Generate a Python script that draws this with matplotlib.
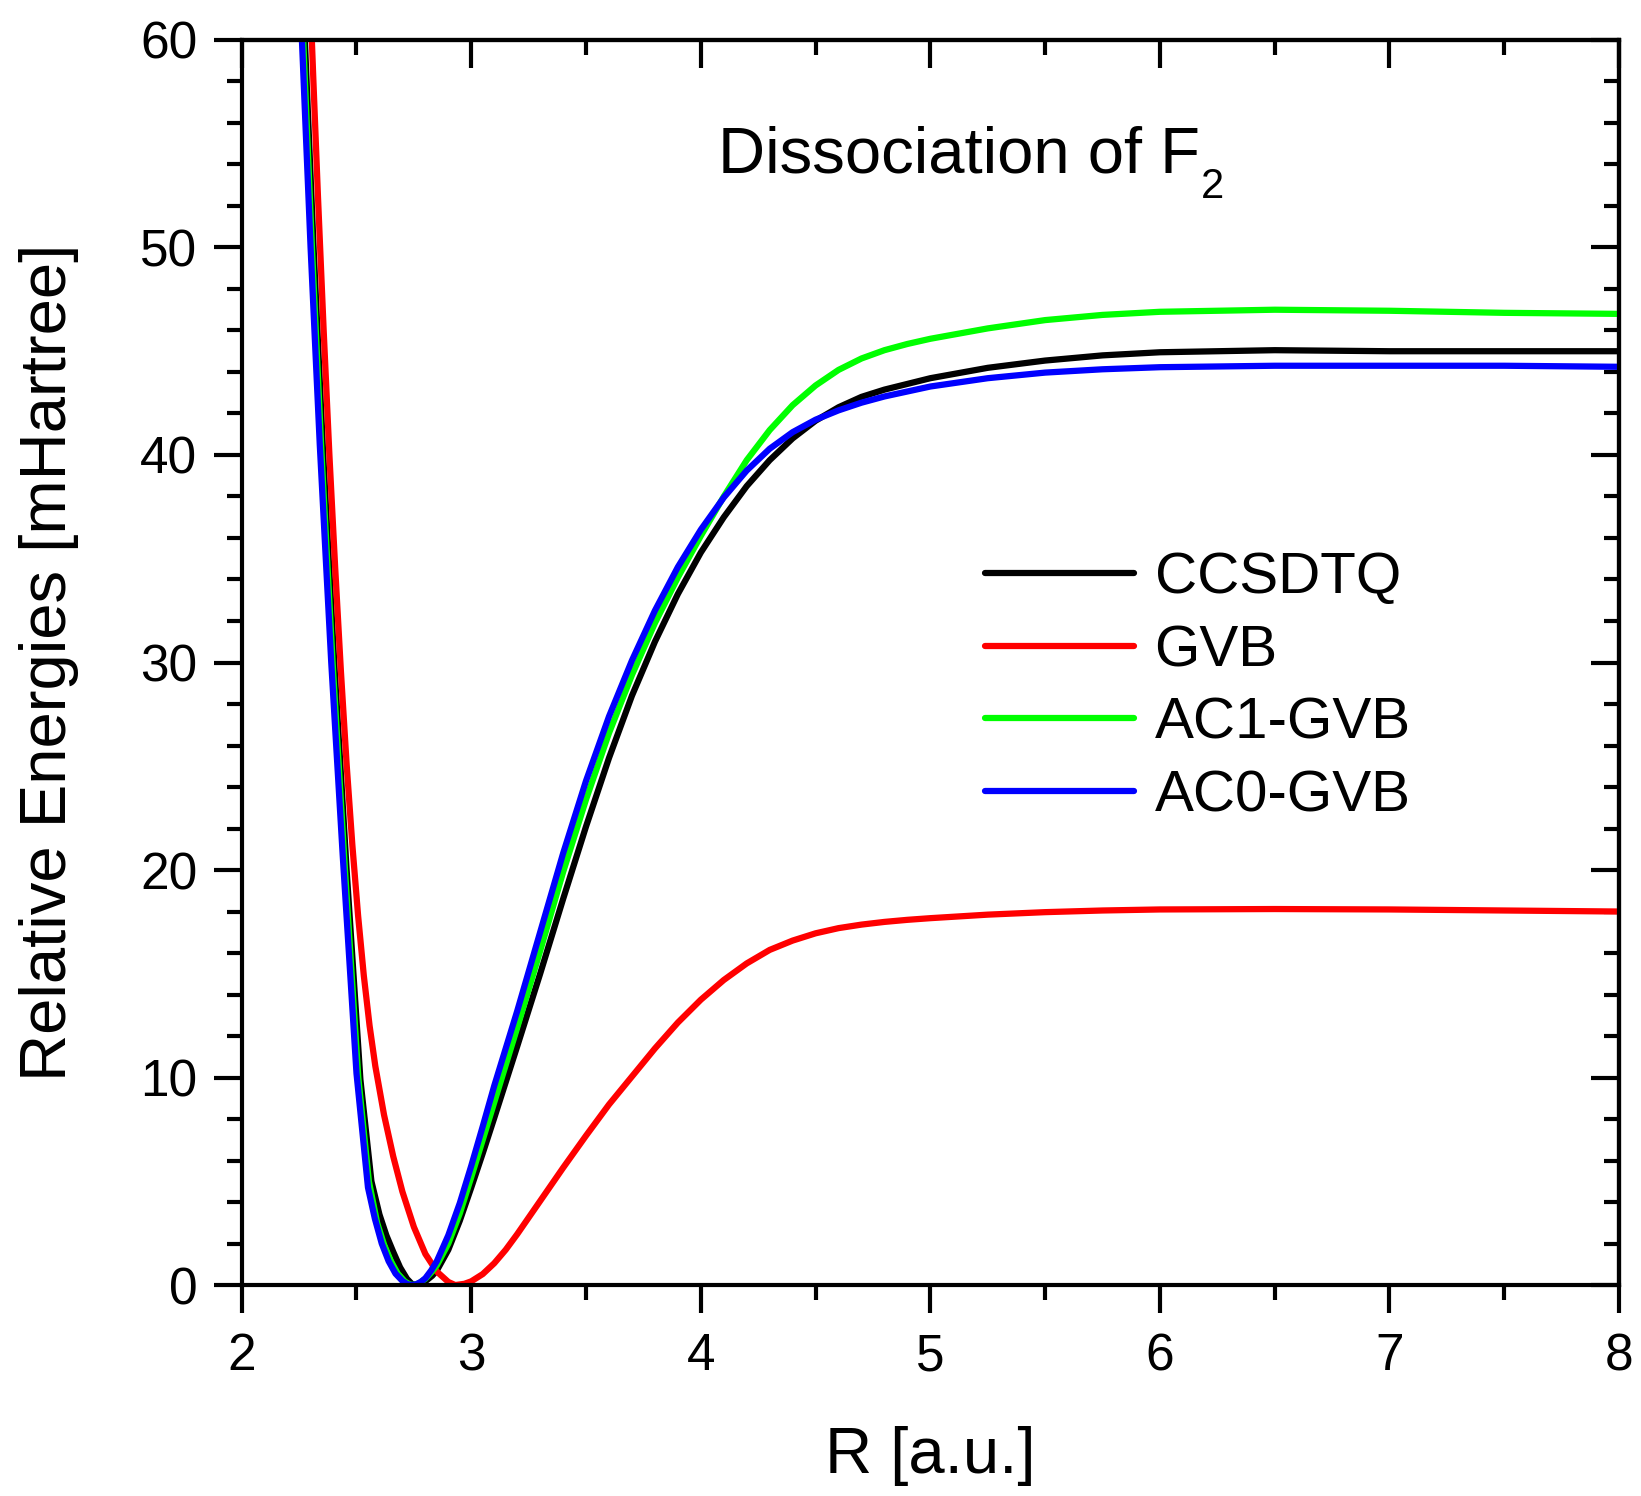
import matplotlib
matplotlib.use("Agg")
import matplotlib.pyplot as plt
from matplotlib.ticker import MultipleLocator

plt.rcParams['font.family'] = ['Liberation Sans', 'DejaVu Sans']

# potential energy curves, R in bohr, E in mHartree
r_ccsdtq = [2.26, 2.275, 2.313, 2.355, 2.403, 2.457, 2.517, 2.565, 2.60, 2.63, 2.66, 2.69,
            2.72, 2.74, 2.757, 2.78, 2.80, 2.83, 2.85, 2.90, 2.95, 3.00, 3.05, 3.10, 3.20,
            3.30, 3.40, 3.50, 3.60, 3.70, 3.80, 3.90, 4.00, 4.10, 4.20, 4.30, 4.40, 4.50,
            4.60, 4.70, 4.80, 5.00, 5.25, 5.50, 5.75, 6.00, 6.50, 7.00, 7.50, 8.00]
e_ccsdtq = [64.3, 60.0, 50.0, 40.0, 30.0, 20.0, 9.9, 5.0, 3.4, 2.4, 1.6, 0.85,
            0.3, 0.07, 0.0, 0.05, 0.18, 0.45, 0.7, 1.7, 3.1, 4.7, 6.35, 8.05, 11.5,
            15.0, 18.6, 22.1, 25.4, 28.4, 31.0, 33.3, 35.3, 37.0, 38.5, 39.75, 40.8, 41.65,
            42.3, 42.8, 43.15, 43.7, 44.2, 44.55, 44.8, 44.95, 45.05, 45.0, 45.0, 45.0]

r_gvb = [2.292, 2.302, 2.312, 2.332, 2.357, 2.382, 2.407, 2.432, 2.457, 2.482, 2.507, 2.532,
         2.557, 2.582, 2.62, 2.66, 2.70, 2.75, 2.80, 2.85, 2.90, 2.93, 2.97, 3.00, 3.05,
         3.10, 3.15, 3.20, 3.25, 3.30, 3.40, 3.50, 3.60, 3.70, 3.80, 3.90, 4.00, 4.10,
         4.20, 4.30, 4.40, 4.50, 4.60, 4.70, 4.80, 4.90, 5.00, 5.25, 5.50, 5.75, 6.00,
         6.50, 7.00, 7.50, 8.00]
e_gvb = [64.1, 61.0, 58.1, 52.5, 46.0, 40.0, 34.6, 29.6, 25.1, 21.2, 17.8, 14.9,
         12.5, 10.55, 8.2, 6.2, 4.5, 2.8, 1.5, 0.65, 0.15, 0.0, 0.06, 0.18, 0.53,
         1.05, 1.7, 2.45, 3.25, 4.05, 5.65, 7.2, 8.7, 10.05, 11.4, 12.65, 13.75, 14.7,
         15.5, 16.15, 16.6, 16.95, 17.2, 17.37, 17.5, 17.6, 17.68, 17.85, 17.97, 18.05, 18.1,
         18.12, 18.1, 18.05, 18.0]

r_ac1 = [2.256, 2.268, 2.306, 2.348, 2.396, 2.45, 2.508, 2.554, 2.59, 2.62, 2.65, 2.68,
         2.71, 2.73, 2.745, 2.77, 2.80, 2.825, 2.85, 2.90, 2.95, 3.00, 3.05, 3.10, 3.20,
         3.30, 3.40, 3.50, 3.60, 3.70, 3.80, 3.90, 4.00, 4.10, 4.20, 4.30, 4.40, 4.50,
         4.60, 4.70, 4.80, 4.90, 5.00, 5.25, 5.50, 5.75, 6.00, 6.50, 7.00, 7.50, 8.00]
e_ac1 = [63.5, 60.0, 50.0, 40.0, 30.0, 20.0, 10.0, 5.0, 3.0, 1.95, 1.15, 0.55,
         0.18, 0.04, 0.0, 0.07, 0.3, 0.6, 0.95, 2.0, 3.45, 5.2, 7.0, 8.8, 12.4,
         16.1, 19.9, 23.4, 26.6, 29.4, 31.9, 34.1, 36.1, 38.0, 39.75, 41.2, 42.4, 43.35,
         44.1, 44.65, 45.05, 45.35, 45.6, 46.1, 46.5, 46.75, 46.9, 47.0, 46.95, 46.85, 46.8]

r_ac0 = [2.25, 2.26, 2.30, 2.34, 2.39, 2.44, 2.50, 2.55, 2.58, 2.61, 2.64, 2.67, 2.70,
         2.72, 2.74, 2.76, 2.78, 2.80, 2.825, 2.85, 2.90, 2.95, 3.00, 3.05, 3.10, 3.20,
         3.30, 3.40, 3.50, 3.60, 3.70, 3.80, 3.90, 4.00, 4.10, 4.20, 4.30, 4.40, 4.50,
         4.60, 4.70, 4.80, 5.00, 5.25, 5.50, 5.75, 6.00, 6.50, 7.00, 7.50, 8.00]
e_ac0 = [63.5, 60.6, 50.0, 40.5, 30.0, 20.7, 10.2, 4.7, 3.2, 2.0, 1.15, 0.55, 0.2,
         0.05, 0.0, 0.04, 0.15, 0.33, 0.7, 1.15, 2.4, 3.95, 5.75, 7.65, 9.6, 13.2,
         17.0, 20.8, 24.3, 27.4, 30.1, 32.5, 34.6, 36.4, 37.95, 39.25, 40.3, 41.1, 41.7,
         42.15, 42.52, 42.82, 43.3, 43.7, 43.97, 44.13, 44.23, 44.3, 44.3, 44.3, 44.25]

series = [
    ("CCSDTQ", r_ccsdtq, e_ccsdtq, "#000000"),
    ("GVB", r_gvb, e_gvb, "#ff0000"),
    ("AC1-GVB", r_ac1, e_ac1, "#00ff00"),
    ("AC0-GVB", r_ac0, e_ac0, "#0000ff"),
]

fig = plt.figure(figsize=(16.41, 14.96), dpi=100)
ax = fig.add_axes([0.1473, 0.1410, 0.8393, 0.8323])

for name, r, e, col in series:
    ax.plot(r, e, color=col, lw=4.5, label=name, solid_capstyle='round',
            solid_joinstyle='round')

ax.set_xlim(2, 8)
ax.set_ylim(0, 60)

ax.xaxis.set_major_locator(MultipleLocator(1))
ax.xaxis.set_minor_locator(MultipleLocator(0.5))
ax.yaxis.set_major_locator(MultipleLocator(10))
ax.yaxis.set_minor_locator(MultipleLocator(2))

for sp in ax.spines.values():
    sp.set_linewidth(3)

# outward ticks on bottom/left, inward on top/right
ax.tick_params(which='both', direction='out', width=3, labelsize=37,
               top=False, right=False)
ax.tick_params(which='major', length=20)
ax.tick_params(which='minor', length=11)
ax.tick_params(axis='x', which='major', pad=14)
ax.tick_params(axis='y', which='major', pad=12)

sec_x = ax.secondary_xaxis('top')
sec_x.xaxis.set_major_locator(MultipleLocator(1))
sec_x.xaxis.set_minor_locator(MultipleLocator(0.5))
sec_x.tick_params(which='both', direction='in', width=3, labeltop=False)
sec_x.tick_params(which='major', length=20)
sec_x.tick_params(which='minor', length=11)
sec_x.spines['top'].set_linewidth(3)

sec_y = ax.secondary_yaxis('right')
sec_y.yaxis.set_major_locator(MultipleLocator(10))
sec_y.yaxis.set_minor_locator(MultipleLocator(2))
sec_y.tick_params(which='both', direction='in', width=3, labelright=False)
sec_y.tick_params(which='major', length=20)
sec_y.tick_params(which='minor', length=11)
sec_y.spines['right'].set_linewidth(3)

ax.set_xlabel("R [a.u.]", fontsize=47)
ax.set_ylabel("Relative Energies [mHartree]", fontsize=47)
ax.xaxis.set_label_coords(0.5, -0.113)
ax.yaxis.set_label_coords(-0.118, 0.5)

# title with a detached subscript
ax.text(4.075, 53.6, "Dissociation of F", fontsize=47, ha='left', va='baseline')
ax.text(6.18, 52.4, "2", fontsize=30, ha='left', va='baseline')

ax.legend(loc='center left', bbox_to_anchor=(0.540, 0.480), frameon=False,
          fontsize=42, handlelength=2.55, handletextpad=0.35, labelspacing=0.32,
          borderpad=0, borderaxespad=0)

fig.savefig("out.png", dpi=100)
